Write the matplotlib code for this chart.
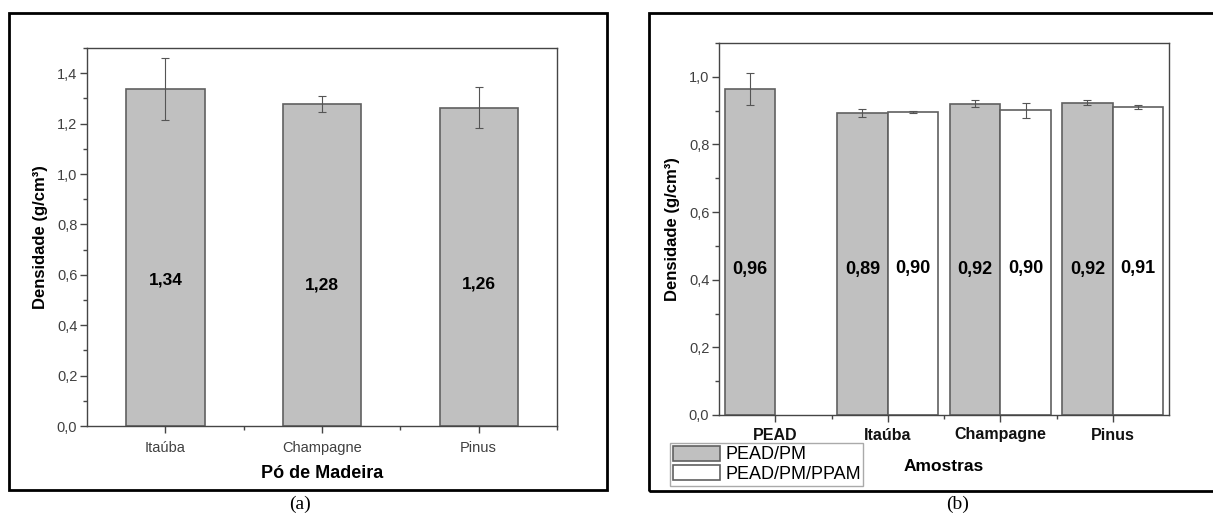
import matplotlib.pyplot as plt
import matplotlib.patches as mpatches
from matplotlib.ticker import MultipleLocator, FixedLocator
import numpy as np

plt.rcParams['font.family'] = ['Liberation Sans', 'DejaVu Sans']

# (a) wood powder density
po_names = ['Itaúba', 'Champagne', 'Pinus']
po_dens = [1.338, 1.277, 1.263]
po_err = [0.124, 0.031, 0.082]
po_labels = ['1,34', '1,28', '1,26']
po_label_y = [0.58, 0.56, 0.565]

# (b) composites density
amostras = ['PEAD', 'Itaúba', 'Champagne', 'Pinus']
pm_dens = [0.965, 0.892, 0.921, 0.924]
pm_err = [0.047, 0.012, 0.010, 0.008]
pm_labels = ['0,96', '0,89', '0,92', '0,92']
ppam_dens = [np.nan, 0.897, 0.901, 0.911]
ppam_err = [np.nan, 0.003, 0.023, 0.007]
ppam_labels = ['', '0,90', '0,90', '0,91']
lab_y = 0.43

gray = '#c0c0c0'
edge = '#606060'
spine_c = '#454545'
tick_c = '#404040'

W, H = 1213, 519
fig = plt.figure(figsize=(W / 100, H / 100), dpi=100)


def fx(px):
    return px / W


def fy(py):
    return 1 - py / H


def style(ax, xlab_bold):
    for s in ax.spines.values():
        s.set_color(spine_c)
        s.set_linewidth(1.0)
    ax.yaxis.set_major_locator(MultipleLocator(0.2))
    ax.yaxis.set_minor_locator(MultipleLocator(0.1))
    ax.yaxis.set_major_formatter(lambda v, p: f'{v:.1f}'.replace('.', ','))
    ax.tick_params(axis='both', which='both', direction='out', color=spine_c,
                   right=False, top=False)
    ax.tick_params(axis='both', which='major', length=5, width=1)
    ax.tick_params(axis='both', which='minor', length=3, width=1)
    ax.tick_params(axis='y', labelsize=10.5, labelcolor=tick_c, pad=2)
    ax.tick_params(axis='x', labelsize=10.5, labelcolor=tick_c if not xlab_bold else '#111111', pad=6)
    ax.set_ylabel('Densidade (g/cm³)', fontsize=12, fontweight='bold', labelpad=6)


# ---- panel (a)
ax1 = fig.add_axes([fx(87), fy(426), fx(557 - 87), (426 - 48) / H])
x1 = np.arange(1, len(po_names) + 1)
ax1.bar(x1, po_dens, width=0.5, color=gray, edgecolor=edge, linewidth=1.2, zorder=2)
ax1.errorbar(x1, po_dens, yerr=po_err, fmt='none', ecolor='#555555', elinewidth=0.8,
             capsize=3, capthick=0.8, zorder=3)
for xi, t, yy in zip(x1, po_labels, po_label_y):
    ax1.text(xi, yy, t, ha='center', va='center', fontsize=12.5, fontweight='bold')
ax1.set_xlim(0.5, 3.5)
ax1.set_ylim(0, 1.5)
style(ax1, False)
ax1.set_xticks(x1)
ax1.set_xticklabels(po_names)
ax1.xaxis.set_minor_locator(FixedLocator([1.5, 2.5, 3.5]))
ax1.set_xlabel('Pó de Madeira', fontsize=13, fontweight='bold', labelpad=7)

# ---- panel (b)
ax2 = fig.add_axes([fx(719), fy(415), fx(1169 - 719), (415 - 43) / H])
x2 = np.arange(1, len(amostras) + 1)
bw = 0.45
ax2.bar(x2 - bw / 2, pm_dens, width=bw, color=gray, edgecolor=edge, linewidth=1.2,
        zorder=2, label='PEAD/PM')
ax2.bar(x2 + bw / 2, ppam_dens, width=bw, color='white', edgecolor=edge, linewidth=1.2,
        zorder=2, label='PEAD/PM/PPAM')
ax2.errorbar(x2 - bw / 2, pm_dens, yerr=pm_err, fmt='none', ecolor='#555555', elinewidth=0.8,
             capsize=3, capthick=0.8, zorder=3)
ax2.errorbar(x2 + bw / 2, ppam_dens, yerr=ppam_err, fmt='none', ecolor='#555555', elinewidth=0.8,
             capsize=3, capthick=0.8, zorder=3)
for xi, t in zip(x2, pm_labels):
    ax2.text(xi - bw / 2, lab_y, t, ha='center', va='center', fontsize=13, fontweight='bold')
for xi, t in zip(x2, ppam_labels):
    if t:
        ax2.text(xi + bw / 2, lab_y + 0.004, t, ha='center', va='center', fontsize=13,
                 fontweight='bold')
ax2.set_xlim(0.5, 4.5)
ax2.set_ylim(0, 1.1)
style(ax2, True)
ax2.set_xticks(x2)
ax2.set_xticklabels(amostras, fontweight='bold', fontsize=11.5)
ax2.tick_params(axis='x', pad=4)
ax2.xaxis.set_minor_locator(FixedLocator([1.5, 2.5, 3.5]))
ax2.set_xlabel('Amostras', fontsize=12.5, fontweight='bold', labelpad=12)

leg = ax2.legend(loc='upper left', bbox_to_anchor=(fx(670), fy(443)),
                 bbox_transform=fig.transFigure, borderaxespad=0, fontsize=13,
                 frameon=True, fancybox=False, edgecolor='#aaaaaa', framealpha=1,
                 handlelength=2.6, handleheight=0.9, handletextpad=0.3,
                 labelspacing=0.1, borderpad=0.15)
leg.get_frame().set_linewidth(1.0)

# outer frames and captions
fig.add_artist(mpatches.Rectangle((fx(9), fy(490)), fx(607 - 9), (490 - 13) / H,
                                  transform=fig.transFigure, fill=False, lw=2.0,
                                  edgecolor='black'))
fig.add_artist(mpatches.Rectangle((fx(649), fy(491)), fx(1220 - 649), (491 - 13) / H,
                                  transform=fig.transFigure, fill=False, lw=2.0,
                                  edgecolor='black', clip_on=False))
fig.text(fx(300), fy(504), '(a)', ha='center', va='center', fontsize=14,
         family=['Liberation Serif', 'DejaVu Serif'])
fig.text(fx(958), fy(504), '(b)', ha='center', va='center', fontsize=14,
         family=['Liberation Serif', 'DejaVu Serif'])

fig.savefig('out.png', dpi=100)
